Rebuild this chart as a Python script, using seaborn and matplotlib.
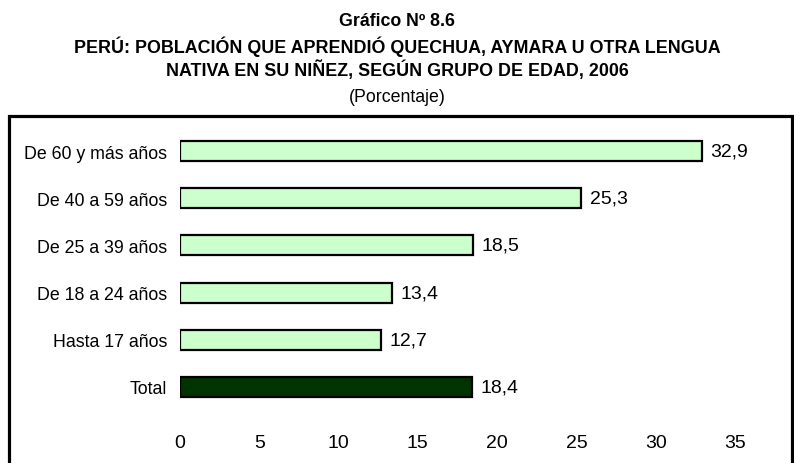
import matplotlib
matplotlib.use("Agg")
import matplotlib.pyplot as plt
import seaborn as sns
import pandas as pd
from matplotlib.patches import Rectangle

# data
grupos = ["De 60 y más años", "De 40 a 59 años", "De 25 a 39 años",
          "De 18 a 24 años", "Hasta 17 años", "Total"]
porcentajes = [32.9, 25.3, 18.5, 13.4, 12.7, 18.4]
colores = ["#CCFFCC", "#CCFFCC", "#CCFFCC", "#CCFFCC", "#CCFFCC", "#003300"]
ticks_x = [0, 5, 10, 15, 20, 25, 30, 35]

df = pd.DataFrame({"grupo": grupos, "pct": porcentajes})

sns.set_style("white")
plt.rcParams["font.family"] = ["Liberation Sans", "DejaVu Sans"]
plt.rcParams["text.color"] = "black"
plt.rcParams["xtick.color"] = "black"
plt.rcParams["ytick.color"] = "black"

fig = plt.figure(figsize=(7.94, 4.64), dpi=100)
ax = fig.add_axes([180 / 794, 1 - 411.6 / 464, 555 / 794, 283.2 / 464])

sns.barplot(
    data=df, x="pct", y="grupo", hue="grupo", palette=colores,
    saturation=1, orient="h", width=0.42, edgecolor="black", linewidth=1.6,
    legend=False, ax=ax,
)

for i, v in enumerate(porcentajes):
    ax.annotate(f"{v:.1f}".replace(".", ","), xy=(v, i), xytext=(6, 0),
                textcoords="offset points", va="center", ha="left",
                fontsize=14, color="black")

ax.set_xlim(0, 35)
ax.set_xticks(ticks_x)
ax.set_xlabel("")
ax.set_ylabel("")
ax.tick_params(axis="x", length=0, pad=17, labelsize=14, labelcolor="black")
ax.tick_params(axis="y", length=0, pad=9, labelsize=12.8, labelcolor="black")
sns.despine(ax=ax, left=True, bottom=True)

# titles
fig.text(0.5, 1 - 21 / 464, "Gráfico Nº 8.6", ha="center", va="center",
         fontsize=12.8, fontweight="bold")
fig.text(0.5, 1 - 47 / 464,
         "PERÚ: POBLACIÓN QUE APRENDIÓ QUECHUA, AYMARA U OTRA LENGUA",
         ha="center", va="center", fontsize=12.9, fontweight="bold")
fig.text(0.5, 1 - 70 / 464,
         "NATIVA EN SU NIÑEZ, SEGÚN GRUPO DE EDAD, 2006",
         ha="center", va="center", fontsize=12.9, fontweight="bold")
fig.text(0.5, 1 - 97 / 464, "(Porcentaje)", ha="center", va="center",
         fontsize=12.8)

# outer frame (open at the bottom, cut by the image edge)
x0, x1 = 9 / 794, 791.5 / 794
top = 1 - 116.7 / 464
fig.patches.append(Rectangle((x0, -0.1), x1 - x0, top + 0.1,
                             transform=fig.transFigure, fill=False,
                             edgecolor="black", linewidth=2.3))

fig.savefig("out.png", dpi=100)
